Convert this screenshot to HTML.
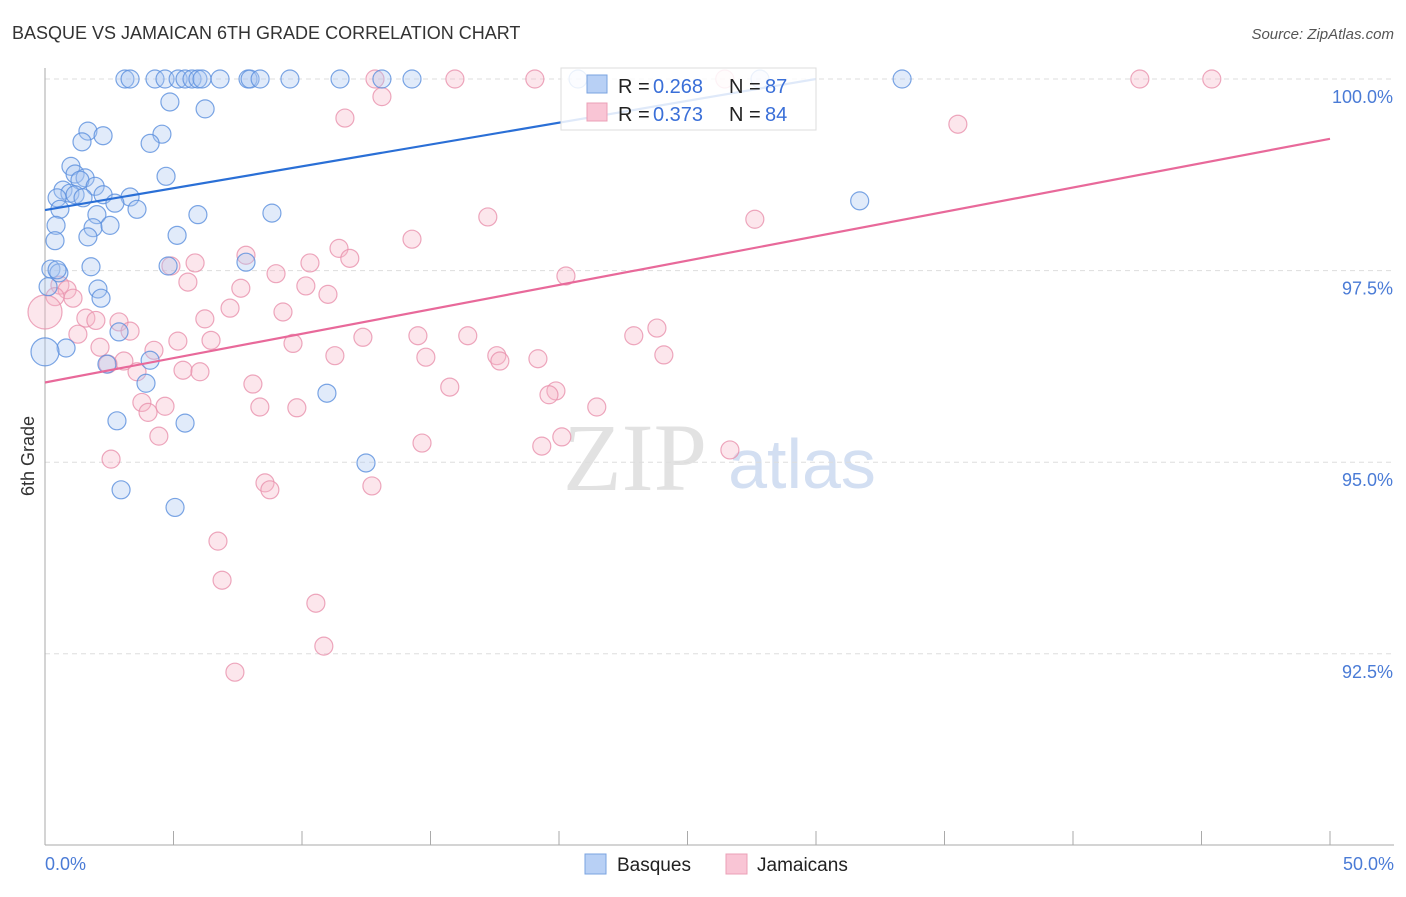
<!DOCTYPE html>
<html><head><meta charset="utf-8"><style>
body{margin:0;background:#fff;font-family:"Liberation Sans",sans-serif}
</style></head><body>
<svg width="1406" height="892" xmlns="http://www.w3.org/2000/svg" id="chart" font-family="Liberation Sans, sans-serif">
<text x="12" y="39" font-size="18" fill="#333">BASQUE VS JAMAICAN 6TH GRADE CORRELATION CHART</text>
<text x="1394" y="39" font-size="15" fill="#555" text-anchor="end" font-style="italic">Source: ZipAtlas.com</text>
<text x="34" y="456" font-size="18" fill="#333" text-anchor="middle" transform="rotate(-90 34 456)">6th Grade</text>
<g><text x="635" y="490" font-size="96" fill="#e2e2e2" text-anchor="middle" font-family="Liberation Serif, serif">ZIP</text><text x="802" y="488" font-size="70" fill="#d3dff2" text-anchor="middle">atlas</text></g>
<g id="grid"></g><g id="axes"></g><g id="pts"></g><g id="trend"></g>
<g>
<rect x="561" y="68" width="255" height="62" fill="#fff" fill-opacity="0.85" stroke="#ddd"/>
<rect x="587" y="75" width="20" height="18" fill="#b8d0f5" stroke="#7aa3e0"/>
<rect x="587" y="103" width="20" height="18" fill="#f9c5d5" stroke="#eba0b7"/>
<text x="618" y="93" font-size="20" fill="#222">R =</text><text x="653" y="93" font-size="20" fill="#3a6fd8">0.268</text>
<text x="729" y="93" font-size="20" fill="#222">N =</text><text x="765" y="93" font-size="20" fill="#3a6fd8">87</text>
<text x="618" y="121" font-size="20" fill="#222">R =</text><text x="653" y="121" font-size="20" fill="#3a6fd8">0.373</text>
<text x="729" y="121" font-size="20" fill="#222">N =</text><text x="765" y="121" font-size="20" fill="#3a6fd8">84</text>
</g>
<g>
<rect x="585" y="854" width="21" height="20" fill="#b8d0f5" stroke="#7aa3e0"/><text x="617" y="871" font-size="19" fill="#222">Basques</text>
<rect x="726" y="854" width="21" height="20" fill="#f9c5d5" stroke="#eba0b7"/><text x="757" y="871" font-size="19" fill="#222">Jamaicans</text>
</g>
</svg>
<script>
const yTicks=[100,97.5,95,92.5];
const yTickLabels=["100.0%","97.5%","95.0%","92.5%"];
const xTickLabels=["0.0%","50.0%"];
const basqueX=[3.11,3.31,4.28,4.67,5.18,5.45,5.72,5.95,6.11,6.81,7.90,7.98,8.37,9.53,11.48,13.11,14.28,20.74,27.82,33.35,4.86,6.23,4.55,1.67,2.26,1.44,4.09,1.01,4.71,1.17,1.56,1.36,1.95,0.70,0.97,1.17,0.47,1.48,2.26,3.31,2.72,0.58,3.58,2.02,5.95,8.83,1.87,2.53,0.43,1.67,5.14,0.39,0.23,0.54,1.79,4.79,7.82,2.06,2.18,2.88,0.82,0,4.09,2.41,3.93,10.97,2.80,5.45,12.49,2.96,5.06,31.70,0.47,0.12];
const basqueY=[100,100,100,100,100,100,100,100,100,100,100,100,100,100,100,100,100,100,100,100,99.70,99.61,99.28,99.32,99.26,99.18,99.16,98.86,98.73,98.76,98.71,98.68,98.60,98.55,98.51,98.49,98.45,98.45,98.49,98.46,98.38,98.30,98.30,98.23,98.23,98.25,98.06,98.09,98.09,97.94,97.96,97.89,97.52,97.47,97.55,97.56,97.61,97.26,97.14,96.70,96.49,96.44,96.33,96.28,96.03,95.90,95.54,95.51,94.99,94.64,94.41,98.41,97.51,97.29];
const jamX=[12.84,15.95,19.06,26.45,42.60,45.40,13.11,11.67,35.52,17.23,27.62,14.28,11.44,11.86,7.82,10.31,5.84,4.90,8.99,20.27,5.56,10.15,7.62,11.01,0.58,0.86,1.09,0.39,0,9.26,7.20,1.59,1.98,2.88,6.22,3.31,1.28,5.17,6.46,9.65,12.37,14.51,16.45,22.91,23.81,2.14,4.24,11.28,14.82,17.58,17.70,19.18,24.08,3.07,2.45,3.58,5.37,6.03,8.09,15.75,19.88,19.61,3.77,4.67,4.01,8.36,9.80,21.47,4.43,14.67,19.33,20.11,26.65,2.57,8.56,8.75,12.72,6.73,6.89,10.54,10.85,7.39];
const jamY=[100,100,100,100,100,100,99.77,99.49,99.41,98.20,98.17,97.91,97.79,97.66,97.70,97.60,97.60,97.56,97.46,97.43,97.35,97.30,97.27,97.19,97.31,97.25,97.14,97.16,96.96,96.96,97.01,96.88,96.85,96.83,96.87,96.71,96.67,96.58,96.59,96.55,96.63,96.65,96.65,96.65,96.75,96.50,96.46,96.39,96.37,96.39,96.32,96.35,96.40,96.32,96.28,96.18,96.20,96.18,96.02,95.98,95.93,95.88,95.78,95.73,95.65,95.72,95.71,95.72,95.34,95.25,95.21,95.33,95.16,95.04,94.73,94.64,94.69,93.97,93.46,93.16,92.60,92.26];
const basqueTrendX=[0,30],basqueTrendY=[98.29,100];
const jamTrendX=[0,50],jamTrendY=[96.04,99.22];
const NS="http://www.w3.org/2000/svg";
const X=v=>45+v/50*1285, Y=v=>79+(100-v)/2.5*191.6;
function mk(t,a,p){const e=document.createElementNS(NS,t);for(const k in a)e.setAttribute(k,a[k]);document.getElementById(p).appendChild(e);return e;}
yTicks.forEach((t,i)=>{
 const l=mk('line',{x1:45,x2:1394,y1:Y(t),y2:Y(t),stroke:'#ddd','stroke-dasharray':'5,4'},'grid');
 
 
 const s=mk('text',{x:1393,y:Y(t)+24,'font-size':18,fill:'#4a7bd6','text-anchor':'end'},'axes');s.textContent=yTickLabels[i];
 
 
});
const ax=mk('line',{x1:45,x2:45,y1:68,y2:845,stroke:'#aaa'},'axes');


const bx=mk('line',{x1:45,x2:1394,y1:845,y2:845,stroke:'#aaa'},'axes');


for(let i=0;i<=10;i++){const t=mk('line',{x1:X(i*5),x2:X(i*5),y1:831,y2:845,stroke:'#aaa'},'axes');
 
 }
[[0,'start',45],[1,'end',1394]].forEach(([i,a,x])=>{const s=mk('text',{x:x,y:870,'font-size':18,fill:'#4a7bd6','text-anchor':a},'axes');s.textContent=xTickLabels[i];
 
 });
function pts(xs,ys,fill,stroke,name){xs.forEach((x,i)=>{const big=x===0;
 const c=mk('circle',{cx:X(x),cy:Y(ys[i]),r:big?(name==='jamaican-point'?17:14):9,fill:fill,'fill-opacity':0.35,stroke:stroke,'stroke-width':1.2,'stroke-opacity':0.8},'pts');
 
 });}
pts(jamX,jamY,'#f7b6c9','#e891ad','jamaican-point');
pts(basqueX,basqueY,'#a9c6f2','#5a8fdd','basque-point');
const t1=mk('line',{x1:X(basqueTrendX[0]),y1:Y(basqueTrendY[0]),x2:X(basqueTrendX[1]),y2:Y(basqueTrendY[1]),stroke:'#2a6fd6','stroke-width':2.2},'trend');


const t2=mk('line',{x1:X(jamTrendX[0]),y1:Y(jamTrendY[0]),x2:X(jamTrendX[1]),y2:Y(jamTrendY[1]),stroke:'#e8699a','stroke-width':2.2},'trend');


</script>
</body></html>
